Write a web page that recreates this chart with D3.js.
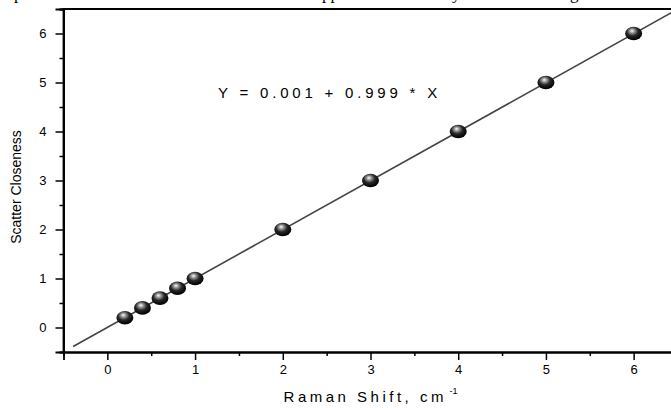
<!DOCTYPE html>
<html>
<head>
<meta charset="utf-8">
<script src="https://cdn.jsdelivr.net/npm/d3@7"></script>
<style>
  body { margin: 0; background: #fff; }
  svg { display: block; }
  text { font-family: "Liberation Sans", Arial, sans-serif; fill: #000; }
</style>
</head>
<body>
<div id="chart"></div>
<script>
// data
const ramanShift = [0.2, 0.4, 0.6, 0.8, 1, 2, 3, 4, 5, 6];
const closeness = [0.2, 0.4, 0.6, 0.8, 1, 2, 3, 4, 5, 6];
const xTicks = [0, 1, 2, 3, 4, 5, 6];
const yTicks = [0, 1, 2, 3, 4, 5, 6];
const minorTicks = [-0.5, 0.5, 1.5, 2.5, 3.5, 4.5, 5.5, 6.5];
const fitIntercept = 0.001, fitSlope = 0.999;
const fitRange = [-0.39, 6.6];

const W = 671, H = 408;
const svg = d3.select("#chart").append("svg")
    .attr("width", W)
    .attr("height", H);

const x = d3.scaleLinear().domain([-0.5, 6.5]).range([63.5, 677.5]);
const y = d3.scaleLinear().domain([-0.5, 6.5]).range([352, 9]);

// glossy ball gradient
const grad = svg.append("defs").append("radialGradient")
    .attr("id", "ball")
    .attr("cx", "45%").attr("cy", "38%").attr("r", "60%")
    .attr("fx", "40%").attr("fy", "30%");
grad.append("stop").attr("offset", "0%").attr("stop-color", "#ffffff");
grad.append("stop").attr("offset", "22%").attr("stop-color", "#a0a0a0");
grad.append("stop").attr("offset", "55%").attr("stop-color", "#282828");
grad.append("stop").attr("offset", "100%").attr("stop-color", "#000000");

// cut off text of the page above
const topText = [["p", 14], ["pp", 322], ["y", 452], ["g", 570]];
svg.append("g").selectAll("text")
  .data(topText)
  .join("text")
  .attr("x", d => d[1])
  .attr("y", -1)
  .style("font-family", "'Liberation Serif', serif")
  .style("font-size", "17px")
  .text(d => d[0]);

// frame
svg.append("path")
  .attr("d", `M${x(-0.5)},${y(-0.5)}V${y(6.5)}H${x(6.5)}`)
  .attr("fill", "none")
  .attr("stroke", "#000")
  .attr("stroke-width", 1.8);

// axes
const xAxis = svg.append("g")
  .attr("transform", `translate(0,${y(-0.5)})`)
  .call(d3.axisBottom(x).tickValues(xTicks).tickSize(8).tickPadding(5).tickFormat(d3.format("d")));
xAxis.append("g").call(d3.axisBottom(x).tickValues(minorTicks).tickSize(4).tickFormat(""));

const yAxis = svg.append("g")
  .attr("transform", `translate(${x(-0.5)},0)`)
  .call(d3.axisLeft(y).tickValues(yTicks).tickSize(8).tickPadding(9).tickFormat(d3.format("d")));
yAxis.append("g").call(d3.axisLeft(y).tickValues(minorTicks).tickSize(4).tickFormat(""));

svg.selectAll(".domain").attr("stroke", "#000").attr("stroke-width", 1.8);
svg.selectAll(".tick line").attr("stroke", "#000").attr("stroke-width", 1.5);
svg.selectAll(".tick text").style("font-size", "13px").attr("fill", "#222");

// axis titles
svg.append("text")
  .attr("transform", "translate(21,187) rotate(-90)")
  .attr("text-anchor", "middle")
  .style("font-size", "14px")
  .text("Scatter Closeness");

const xt = svg.append("text")
  .attr("x", x(3))
  .attr("y", 402)
  .attr("text-anchor", "middle")
  .style("font-size", "15px")
  .style("letter-spacing", "3.5px");
xt.append("tspan").text("Raman Shift, cm");
xt.append("tspan").attr("dy", -8).style("font-size", "9px").style("letter-spacing", "0px").text(" -1");

// fit line
svg.append("defs").append("clipPath").attr("id", "clip")
  .append("rect").attr("x", x(-0.5)).attr("y", y(6.5))
  .attr("width", x(6.5) - x(-0.5)).attr("height", y(-0.5) - y(6.5));

svg.append("line")
  .attr("clip-path", "url(#clip)")
  .attr("x1", x(fitRange[0])).attr("y1", y(fitIntercept + fitSlope * fitRange[0]))
  .attr("x2", x(fitRange[1])).attr("y2", y(fitIntercept + fitSlope * fitRange[1]))
  .attr("stroke", "#444")
  .attr("stroke-width", 1.6);

// points
svg.append("g").selectAll("ellipse")
  .data(ramanShift)
  .join("ellipse")
  .attr("cx", d => x(d))
  .attr("cy", (d, i) => y(closeness[i]))
  .attr("rx", 8.5)
  .attr("ry", 6.8)
  .attr("fill", "url(#ball)");

// equation
svg.append("text")
  .attr("x", 218)
  .attr("y", 98)
  .style("font-size", "15px")
  .style("letter-spacing", "3.8px")
  .text(`Y = ${fitIntercept.toFixed(3)} + ${fitSlope.toFixed(3)} * X`);
</script>
</body>
</html>
